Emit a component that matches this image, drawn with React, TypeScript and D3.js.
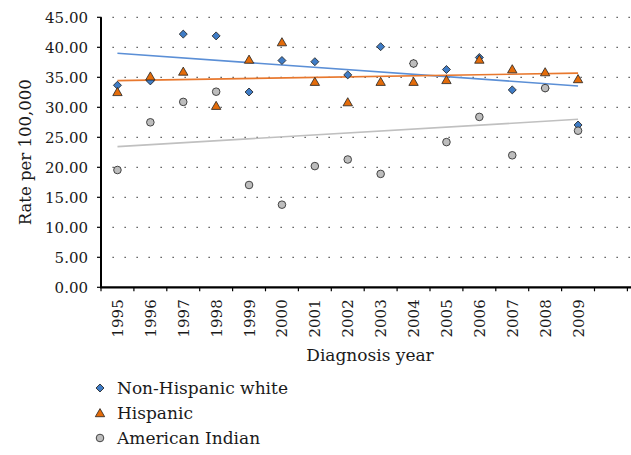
import React from "react";
import * as d3 from "d3";

const years = ["1995","1996","1997","1998","1999","2000","2001","2002","2003","2004","2005","2006","2007","2008","2009"];
const nonHispanicWhite = [33.67,34.4,42.2,41.9,32.55,37.8,37.6,35.4,40.1,37.3,36.3,38.3,32.9,33.2,27.05];
const hispanic = [32.4,35.0,35.8,30.1,37.8,40.7,34.1,30.7,34.1,34.1,34.4,37.8,36.2,35.7,34.55];
const americanIndian = [19.55,27.5,30.9,32.6,17.05,13.77,20.2,21.3,18.9,37.3,24.2,28.4,22.0,33.2,26.1];
// trend line values at first and last year
const trendNHW = [39.0, 33.55];
const trendHisp = [34.45, 35.7];
const trendAI = [23.45, 28.0];
const yTicks = [0,5,10,15,20,25,30,35,40,45];

const W = 631, H = 455;
const left = 101, right = 627.4, top = 17.3, bottom = 287.3;
const FONT = "'DejaVu Serif', serif";

export default function App() {
  const slots = [...years, ""];
  const x = d3.scaleBand<string>().domain(slots.map((s, i) => String(i))).range([left, right]).paddingInner(0).paddingOuter(0);
  const bw = x.bandwidth();
  const cx = (i: number) => (x(String(i)) as number) + bw / 2;
  const y = d3.scaleLinear().domain([0, 45]).range([bottom, top]);

  const diamond = d3.symbol().type(d3.symbolSquare).size(32)() as string;
  const triangle = d3.symbol().type(d3.symbolTriangle).size(38)() as string;

  const blue = "#3F7CC6", orange = "#E46C0A", grey = "#BDBDBD";
  const trendLine = (vals: number[], color: string) => (
    <line x1={cx(0)} x2={cx(years.length - 1)} y1={y(vals[0])} y2={y(vals[1])} stroke={color} strokeWidth={1.6} />
  );

  const boundaries = d3.range(slots.length + 1).map(i => left + i * bw);
  const txt = { fontFamily: FONT, fill: "#1a1a1a" } as React.CSSProperties;

  return (
    <svg width={W} height={H} style={{ position: "absolute", left: 0, top: 0, fontFamily: FONT }}>
      <rect width={W} height={H} fill="#fff" />
      {/* gridlines */}
      {yTicks.filter(t => t > 0).map(t => (
        <line key={t} x1={left} x2={W} y1={y(t)} y2={y(t)} stroke="#444" strokeWidth={1.3} strokeDasharray="1.3 10.7" strokeDashoffset={-11.5} />
      ))}
      {/* y axis */}
      <line x1={left} x2={left} y1={top} y2={bottom} stroke="#000" strokeWidth={2} />
      {yTicks.map(t => (
        <g key={t}>
          <line x1={left - 4} x2={left} y1={y(t)} y2={y(t)} stroke="#000" strokeWidth={1.2} />
          <text x={88} y={y(t)} dy="0.36em" textAnchor="end" fontSize={15} style={txt}>{t.toFixed(2)}</text>
        </g>
      ))}
      {/* x axis */}
      <line x1={left - 1} x2={W} y1={bottom} y2={bottom} stroke="#000" strokeWidth={2.2} />
      {boundaries.map((b, i) => (
        <line key={i} x1={b} x2={b} y1={bottom} y2={bottom + 4} stroke="#000" strokeWidth={1.2} />
      ))}
      {years.map((yr, i) => (
        <text key={yr} transform={`translate(${cx(i) + 5.5},${bottom + 12}) rotate(-90)`} textAnchor="end" fontSize={15} style={txt}>{yr}</text>
      ))}
      <text x={370} y={361} textAnchor="middle" fontSize={17} style={txt}>Diagnosis year</text>
      <text transform={`translate(31,${(top + bottom) / 2}) rotate(-90)`} textAnchor="middle" fontSize={16.5} style={txt}>Rate per 100,000</text>

      {/* trend lines */}
      {trendLine(trendAI, "#C0C0C0")}
      {trendLine(trendNHW, "#5B8FD6")}
      {trendLine(trendHisp, "#E8782E")}

      {/* markers */}
      {nonHispanicWhite.map((v, i) => (
        <path key={"b" + i} d={diamond} transform={`translate(${cx(i)},${y(v)}) rotate(45)`} fill={blue} stroke="#222" strokeWidth={0.8} />
      ))}
      {hispanic.map((v, i) => (
        <path key={"h" + i} d={triangle} transform={`translate(${cx(i)},${y(v)})`} fill={orange} stroke="#222" strokeWidth={0.8} />
      ))}
      {americanIndian.map((v, i) => (
        <circle key={"a" + i} cx={cx(i)} cy={y(v)} r={3.8} fill={grey} stroke="#333" strokeWidth={0.9} />
      ))}

      {/* legend */}
      <g>
        <path d={diamond} transform="translate(100,388) rotate(45)" fill={blue} stroke="#222" strokeWidth={0.8} />
        <text x={117} y={388} dy="0.36em" fontSize={17} style={txt}>Non-Hispanic white</text>
        <path d={triangle} transform="translate(100,414)" fill={orange} stroke="#222" strokeWidth={0.8} />
        <text x={117} y={413} dy="0.36em" fontSize={17} style={txt}>Hispanic</text>
        <circle cx={100} cy={438} r={3.8} fill={grey} stroke="#333" strokeWidth={0.9} />
        <text x={117} y={438} dy="0.36em" fontSize={17} style={txt}>American Indian</text>
      </g>
    </svg>
  );
}
